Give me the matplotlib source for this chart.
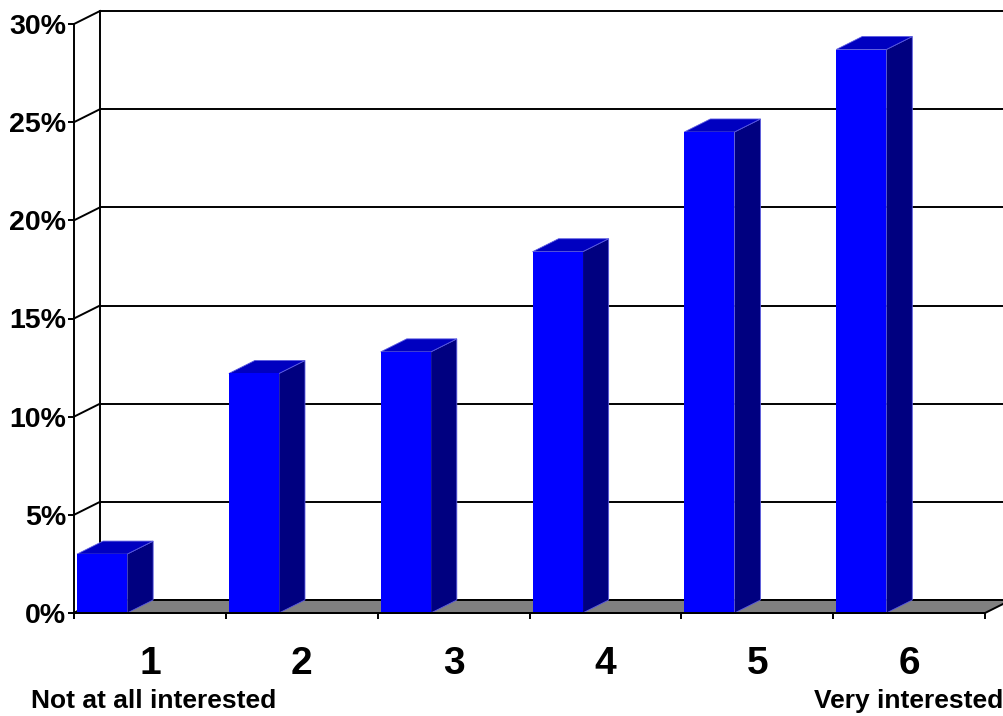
import matplotlib.pyplot as plt
from matplotlib.patches import Polygon, Rectangle

plt.rcParams['font.family'] = ['Liberation Sans', 'DejaVu Sans']
plt.rcParams['font.weight'] = 'bold'

# survey answers on a 1..6 scale, share of respondents in percent
categories = ['1', '2', '3', '4', '5', '6']
shares = [3.0, 12.2, 13.3, 18.4, 24.5, 28.7]
yticks = [0, 5, 10, 15, 20, 25, 30]
low_label = 'Not at all interested'
high_label = 'Very interested'

W, H = 1004, 716
fig = plt.figure(figsize=(W / 100, H / 100), dpi=100)
# front plane of the plot: x 74..985 px, y 613..24 px
ax = fig.add_axes([74 / W, 103 / H, 911 / W, 589 / H])
ax.set_xlim(0, 6)
ax.set_ylim(0, 30)

# depth offset of the pseudo 3d box, in data units
DX = 26 / (911 / 6)
DY = 13 / (589 / 30)

ncat = len(categories)
lw = 1.4

# back wall grid + left wall diagonals
for v in yticks:
    ax.plot([DX, ncat + DX + 0.5], [v + DY, v + DY], color='black', lw=lw,
            clip_on=False, zorder=1)
    ax.plot([0, DX], [v, v + DY], color='black', lw=lw, clip_on=False, zorder=1)
ax.plot([DX, DX], [DY, yticks[-1] + DY], color='black', lw=lw, clip_on=False, zorder=1)

# floor
floor = Polygon([(0, 0), (ncat, 0), (ncat + DX, DY), (DX, DY)], closed=True,
                facecolor='#808080', edgecolor='black', lw=lw, clip_on=False, zorder=2)
ax.add_patch(floor)

# bars
bw = 0.33
for i, h in enumerate(shares):
    x0 = i + 0.02
    x1 = x0 + bw
    side = Polygon([(x1, 0), (x1 + DX, DY), (x1 + DX, h + DY), (x1, h)], closed=True,
                   facecolor='#000080', edgecolor='#5a5ae0', lw=0.6,
                   clip_on=False, zorder=3)
    top = Polygon([(x0, h), (x1, h), (x1 + DX, h + DY), (x0 + DX, h + DY)], closed=True,
                  facecolor='#0000c0', edgecolor='#5a5ae0', lw=0.6,
                  clip_on=False, zorder=3)
    front = Rectangle((x0, 0), bw, h, facecolor='#0000ff', edgecolor='none',
                      clip_on=False, zorder=4)
    ax.add_patch(side)
    ax.add_patch(top)
    ax.add_patch(front)

# axes: left and bottom spines only
for s in ['top', 'right']:
    ax.spines[s].set_visible(False)
for s in ['left', 'bottom']:
    ax.spines[s].set_linewidth(lw)
    ax.spines[s].set_zorder(5)
ax.patch.set_visible(False)

ax.set_yticks(yticks)
ax.set_yticklabels(['%d%%' % v for v in yticks], fontsize=20.5, fontweight='bold')
ax.tick_params(axis='y', direction='out', length=4.5, width=lw, pad=1)

ax.set_xticks(range(ncat + 1))
ax.set_xticklabels([])
ax.set_xticks([i + 0.5 for i in range(ncat)], minor=True)
ax.set_xticklabels(categories, minor=True, fontsize=28, fontweight='bold')
ax.tick_params(axis='x', which='major', direction='out', length=4.5, width=lw)
ax.tick_params(axis='x', which='minor', length=0, pad=24)

fig.text(31 / W, 1 - 701 / H, low_label, fontsize=19, fontweight='bold',
         ha='left', va='center')
fig.text(1003 / W, 1 - 701 / H, high_label, fontsize=19, fontweight='bold',
         ha='right', va='center')

fig.savefig('out.png', dpi=100)
